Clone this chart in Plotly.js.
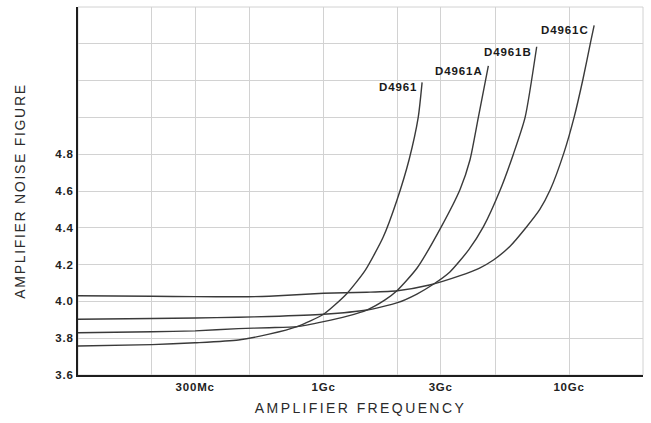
<!DOCTYPE html>
<html><head><meta charset="utf-8">
<script src="https://cdn.plot.ly/plotly-3.0.1.min.js"></script>
<style>
html,body{margin:0;padding:0;background:#fff;}
#chart{width:651px;height:423px;}
.xtitle{letter-spacing:2.4px;}
.ytitle{letter-spacing:1.7px;}
.xtick text,.ytick text{letter-spacing:0.8px;}
.annotation-text{letter-spacing:0.9px;}
</style></head><body><div id="chart"></div>
<script>
// Frequencies in Gc (log axis), noise figure values
const seriesNames = ["D4961", "D4961A", "D4961B", "D4961C"];

const x_D4961 = [0.1, 0.2, 0.3, 0.45, 0.6, 0.78, 1.0, 1.24, 1.48, 1.75, 1.99, 2.23, 2.43, 2.52];
const y_D4961 = [3.758, 3.765, 3.775, 3.79, 3.822, 3.863, 3.93, 4.04, 4.17, 4.35, 4.55, 4.77, 5.0, 5.19];

const x_D4961A = [0.1, 0.2, 0.3, 0.45, 0.6, 0.78, 1.0, 1.25, 1.5, 1.78, 1.99, 2.4, 3.0, 3.6, 3.95, 4.27, 4.69];
const y_D4961A = [3.83, 3.835, 3.84, 3.852, 3.857, 3.863, 3.89, 3.92, 3.953, 4.008, 4.058, 4.18, 4.40, 4.61, 4.77, 5.0, 5.28];

const x_D4961B = [0.1, 0.2, 0.3, 0.45, 0.6, 1.0, 1.5, 2.0, 2.4, 2.8, 3.27, 3.9, 4.48, 5.24, 5.93, 6.62, 7.38];
const y_D4961B = [3.903, 3.907, 3.91, 3.914, 3.918, 3.93, 3.953, 3.993, 4.04, 4.093, 4.16, 4.28, 4.406, 4.605, 4.80, 5.0, 5.384];

const x_D4961C = [0.1, 0.2, 0.3, 0.45, 0.6, 1.0, 1.5, 2.0, 2.7, 3.6, 4.3, 4.92, 5.75, 6.72, 7.6, 8.37, 9.54, 10.48, 11.4, 12.24, 12.65];
const y_D4961C = [4.031, 4.028, 4.026, 4.025, 4.028, 4.044, 4.05, 4.058, 4.089, 4.14, 4.18, 4.225, 4.30, 4.406, 4.50, 4.605, 4.81, 5.0, 5.21, 5.41, 5.50];

const xTickVals = [0.2, 0.3, 0.5, 1, 2, 3, 5, 10, 20];
const xTickText = ["", "300Mc", "", "1Gc", "", "3Gc", "", "10Gc", ""];
const yTickVals = [3.6, 3.8, 4.0, 4.2, 4.4, 4.6, 4.8, 5.0, 5.2, 5.4, 5.6];
const yTickText = ["3.6", "3.8", "4.0", "4.2", "4.4", "4.6", "4.8", "", "", "", ""];

const xs = [x_D4961, x_D4961A, x_D4961B, x_D4961C];
const ys = [y_D4961, y_D4961A, y_D4961B, y_D4961C];

const FONT = "Liberation Sans, Arial, sans-serif";

const traces = seriesNames.map((n, i) => ({
  type: "scatter", mode: "lines", name: n,
  x: xs[i], y: ys[i],
  line: {color: "#3a3a3a", width: 1.4, shape: "spline", smoothing: 0.6},
  hoverinfo: "skip"
}));

const annotations = seriesNames.map((n, i) => ({
  x: Math.log10(xs[i][xs[i].length - 1]), y: ys[i][ys[i].length - 1],
  xref: "x", yref: "y", text: n, showarrow: false,
  xanchor: "right", yanchor: "middle", xshift: -3, yshift: -5,
  font: {family: FONT, size: 11.5, color: "#1a1a1a", weight: "bold"}
}));

const layout = {
  width: 651, height: 423,
  margin: {l: 78, r: 8, t: 7, b: 48},
  paper_bgcolor: "#ffffff", plot_bgcolor: "#ffffff",
  showlegend: false,
  xaxis: {
    type: "log", range: [-1, Math.log10(20)],
    tickvals: xTickVals, ticktext: xTickText,
    showgrid: true, gridcolor: "#d2d2d2", gridwidth: 1,
    showline: true, linecolor: "#1e1e1e", linewidth: 2,
    zeroline: false, ticks: "",
    tickfont: {family: FONT, size: 11.5, color: "#222", weight: "bold"},
    title: {text: "AMPLIFIER FREQUENCY", standoff: 11,
            font: {family: FONT, size: 14, color: "#2a2a2a"}},
    automargin: false, fixedrange: true
  },
  yaxis: {
    range: [3.6, 5.6],
    tickvals: yTickVals, ticktext: yTickText,
    showgrid: true, gridcolor: "#d2d2d2", gridwidth: 1,
    showline: true, linecolor: "#1e1e1e", linewidth: 2,
    zeroline: false, ticks: "",
    tickfont: {family: FONT, size: 11.5, color: "#222", weight: "bold"},
    title: {text: "AMPLIFIER NOISE FIGURE", standoff: 26,
            font: {family: FONT, size: 14, color: "#2a2a2a"}},
    automargin: false, fixedrange: true
  },
  shapes: [{type: "rect", xref: "paper", yref: "paper", x0: 0, x1: 1, y0: 0, y1: 1,
            line: {color: "#d2d2d2", width: 1}, layer: "below"}],
  annotations: annotations
};

Plotly.newPlot("chart", traces, layout, {staticPlot: true, displayModeBar: false});
</script></body></html>
